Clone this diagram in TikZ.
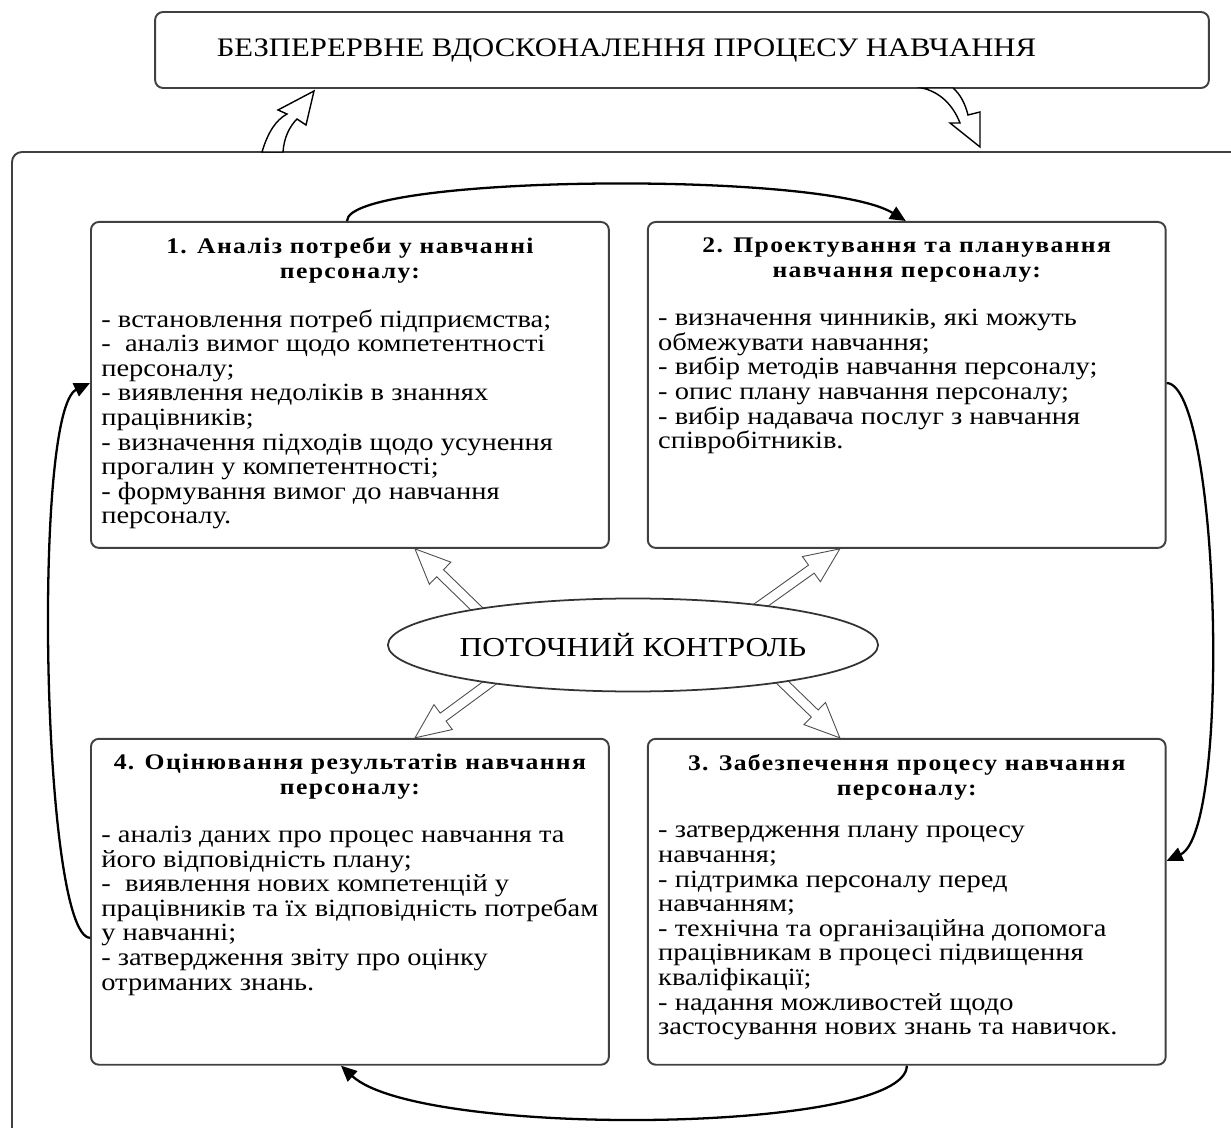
\documentclass[tikz,border=0pt]{standalone}
\usepackage{fontspec}
\setmainfont{Liberation Serif}[FakeStretch=1.15]
\newfontfamily\headfont{Liberation Serif}[LetterSpace=6, FakeStretch=1.15]
\usepackage{xcolor}
\usetikzlibrary{positioning,calc,arrows.meta,shapes.geometric,backgrounds}

\newcommand{\tightlines}{\setlength{\lineskiplimit}{-20pt}}

% hollow block arrow from #1 (tail) to #2 (tip)
\newcommand{\hollowarrow}[2]{%
  \draw[hollow] let \p1=(#1), \p2=(#2), \n1={atan2(\y2-\y1,\x2-\x1)}, \n2={veclen(\x2-\x1,\y2-\y1)} in
    ($(\p1)+({\n1+90}:2.8pt)$) -- ($(\p1)+(\n1:{\n2-19.8pt})+({\n1+90}:2.8pt)$)
    -- ($(\p1)+(\n1:{\n2-19.8pt})+({\n1+90}:8.8pt)$) -- (\p2)
    -- ($(\p1)+(\n1:{\n2-19.8pt})+({\n1-90}:8.8pt)$) -- ($(\p1)+(\n1:{\n2-19.8pt})+({\n1-90}:2.8pt)$)
    -- ($(\p1)+({\n1-90}:2.8pt)$) -- cycle;}

\begin{document}
\begin{tikzpicture}[x=0.02cm, y=-0.02cm,
    stage/.style={draw=black!75, line width=1.1pt, rounded corners=0.16cm, minimum width=10.36cm, minimum height=6.52cm, inner sep=0pt},
    head/.style={inner sep=0pt, align=center, font=\headfont\bfseries\fontsize{12.7}{14.4}\selectfont\tightlines},
    body/.style={inner sep=0pt, align=left, font=\fontsize{14.1}{14}\selectfont\tightlines},
    flow/.style={line width=1.3pt, -{Triangle[length=9pt,width=8pt]}},
    hollow/.style={draw=black!70, fill=white, line width=0.5pt},
    blockarrow/.style={draw=black, fill=white, line width=0.8pt}]

    \useasboundingbox (0,0) rectangle (1231,1128);

    % outer frame (runs off the page)
    \draw[draw=black!75, line width=1.1pt, rounded corners=0.2cm] (1231,152) -- (12,152) -- (12,1128);

    % Define nodes
    \node[draw=black!75, line width=1.1pt, rounded corners=0.16cm, minimum width=21.08cm, minimum height=1.52cm,
          font=\fontsize{15.2}{18}\selectfont] (goal) at (682,50) {БЕЗПЕРЕРВНЕ ВДОСКОНАЛЕННЯ ПРОЦЕСУ НАВЧАННЯ\kern2.22cm};

    \node[stage, anchor=north west] (box1) at (90,221) {};
    \node[stage, right=0.74cm of box1] (box2) {};
    \node[stage, below=3.78cm of box1] (box4) {};
    \node[stage, right=0.74cm of box4] (box3) {};

    \node[ellipse, draw=black!80, line width=1pt, fill=white, minimum width=8.18cm, minimum height=1.86cm, inner sep=0pt,
          font=\fontsize{15.6}{18}\selectfont] (ctrl) at (633,645) {ПОТОЧНИЙ КОНТРОЛЬ};

    % headings
    \node[head, anchor=north] (h1) at ($(box1.north)+(0,16)$) {1. Аналіз потреби у навчанні\\персоналу:};
    \node[head, anchor=north] (h2) at ($(box2.north)+(0,16)$) {2. Проектування та планування\\навчання персоналу:};
    \node[head, anchor=north] (h4) at ($(box4.north)+(0,16)$) {4. Оцінювання результатів навчання\\персоналу:};
    \node[head, anchor=north] (h3) at ($(box3.north)+(0,16)$) {3. Забезпечення процесу навчання\\персоналу:};

    % lists
    \node[body, anchor=north west] (t1) at ($(box1.north west)+(11,88)$) {
        - встановлення потреб підприємства;\\
        -\ \ аналіз вимог щодо компетентності\\
        персоналу;\\
        - виявлення недоліків в знаннях\\
        працівників;\\
        - визначення підходів щодо усунення\\
        прогалин у компетентності;\\
        - формування вимог до навчання\\
        персоналу.};
    \node[body, anchor=north west] (t2) at ($(box2.north west)+(11,88)$) {
        - визначення чинників, які можуть\\
        обмежувати навчання;\\
        - вибір методів навчання персоналу;\\
        - опис плану навчання персоналу;\\
        - вибір надавача послуг з навчання\\
        співробітників.};
    \node[body, anchor=north west] (t4) at ($(box4.north west)+(11,88)$) {
        - аналіз даних про процес навчання та\\
        його відповідність плану;\\
        -\ \ виявлення нових компетенцій у\\
        працівників та їх відповідність потребам\\
        у навчанні;\\
        - затвердження звіту про оцінку\\
        отриманих знань.};
    \node[body, anchor=north west] (t3) at ($(box3.north west)+(11,88)$) {
        - затвердження плану процесу\\
        навчання;\\
        - підтримка персоналу перед\\
        навчанням;\\
        - технічна та організаційна допомога\\
        працівникам в процесі підвищення\\
        кваліфікації;\\
        - надання можливостей щодо\\
        застосування нових знань та навичок.};

    % control arrows
    \coordinate (ulTail) at ($(ctrl.center)+(-119,0)$);
    \coordinate (urTail) at ($(ctrl.center)+(72,0)$);
    \coordinate (llTail) at ($(ctrl.center)+(-92,0)$);
    \coordinate (lrTail) at ($(ctrl.center)+(111,0)$);
    \coordinate (ulTip) at ($(box1.south west)+(325,0)$);
    \coordinate (urTip) at ($(box2.south west)+(193,0)$);
    \coordinate (llTip) at ($(box4.north west)+(325,0)$);
    \coordinate (lrTip) at ($(box3.north west)+(193,0)$);
    \begin{pgfonlayer}{background}
        \hollowarrow{ulTail}{ulTip}
        \hollowarrow{urTail}{urTip}
        \hollowarrow{llTail}{llTip}
        \hollowarrow{lrTail}{lrTip}
    \end{pgfonlayer}

    % cycle connections
    \draw[flow] ($(box1.north west)+(257,0)$) .. controls +(0,-46) and +(-83,-51) .. ($(box2.north west)+(259,0)$);
    \draw[flow] ($(box2.north east)+(0,162)$) .. controls +(53,2) and +(65,-30) .. ($(box3.north east)+(0,123)$);
    \draw[flow] ($(box3.south west)+(260,0)$) .. controls +(0,68) and +(79,73) .. ($(box4.south west)+(251,0)$);
    \draw[flow] ($(box4.north west)+(0,200)$) .. controls +(-48,-2) and +(-58,28) .. ($(box1.north west)+(0,162)$);

    % feedback block arrows
    \draw[blockarrow] (262,152) .. controls (268,132) and (276,120) .. (287,114) -- (278,110) -- (314,91)
        -- (306,125) -- (297,119) .. controls (290,126) and (284,137) .. (283,152) -- cycle;
    \draw[blockarrow] (922,88) .. controls (940,92) and (953,105) .. (960,123) -- (950,123) -- (980,147)
        -- (980,112) -- (968,115) .. controls (965,103) and (960,94) .. (953,88) -- cycle;

\end{tikzpicture}
\end{document}
